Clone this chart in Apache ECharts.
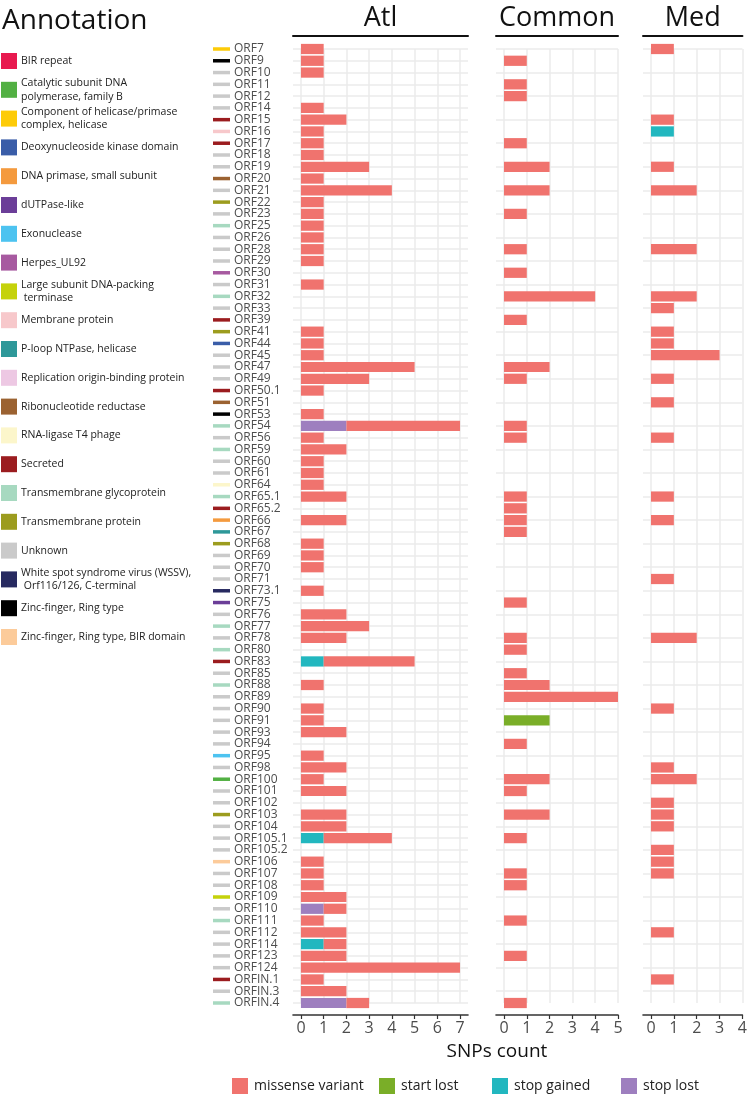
<!DOCTYPE html>
<html><head><meta charset="utf-8">
<script src="https://cdn.jsdelivr.net/npm/echarts@6/dist/echarts.min.js"></script>
<style>html,body{margin:0;padding:0;background:#fff}#c{width:750px;height:1100px}</style>
</head><body><div id="c"></div>
<script>
const annotations = ["BIR repeat","Catalytic subunit DNA\npolymerase, family B","Component of helicase/primase\ncomplex, helicase","Deoxynucleoside kinase domain","DNA primase, small subunit","dUTPase-like","Exonuclease","Herpes_UL92","Large subunit DNA-packing\n terminase","Membrane protein","P-loop NTPase, helicase","Replication origin-binding protein","Ribonucleotide reductase","RNA-ligase T4 phage","Secreted","Transmembrane glycoprotein","Transmembrane protein","Unknown","White spot syndrome virus (WSSV),\n Orf116/126, C-terminal","Zinc-finger, Ring type","Zinc-finger, Ring type, BIR domain"];
const annotationColors = ["#E8194F","#52B043","#FDCB08","#3A5DA8","#F49A3E","#6B3E98","#4DC3F0","#A75AA0","#C5D20B","#F7C8CB","#2E9899","#EDC8E3","#9B6231","#FCF6CB","#9B1C1F","#A7D9C0","#9C9C1E","#CACACA","#272A60","#000000","#FCCB9A"];
const orfs = ["ORF7","ORF9","ORF10","ORF11","ORF12","ORF14","ORF15","ORF16","ORF17","ORF18","ORF19","ORF20","ORF21","ORF22","ORF23","ORF25","ORF26","ORF28","ORF29","ORF30","ORF31","ORF32","ORF33","ORF39","ORF41","ORF44","ORF45","ORF47","ORF49","ORF50.1","ORF51","ORF53","ORF54","ORF56","ORF59","ORF60","ORF61","ORF64","ORF65.1","ORF65.2","ORF66","ORF67","ORF68","ORF69","ORF70","ORF71","ORF73.1","ORF75","ORF76","ORF77","ORF78","ORF80","ORF83","ORF85","ORF88","ORF89","ORF90","ORF91","ORF93","ORF94","ORF95","ORF98","ORF100","ORF101","ORF102","ORF103","ORF104","ORF105.1","ORF105.2","ORF106","ORF107","ORF108","ORF109","ORF110","ORF111","ORF112","ORF114","ORF123","ORF124","ORFIN.1","ORFIN.3","ORFIN.4"];
const orfAnnotation = [2,19,17,17,17,17,14,9,14,17, 17,12,17,16,17,15,17,17,17,7, 17,15,17,14,16,3,17,17,17,14, 12,19,15,17,15,17,17,13,15,14, 4,10,16,17,17,17,18,5,17,15, 17,15,14,17,15,17,17,17,17,17, 6,17,1,17,17,16,17,17,17,20, 17,17,8,17,15,17,17,17,17,14, 17,15];

const variantTypes = ["missense variant","start lost","stop gained","stop lost"];
const variantColors = ["#F0736E","#7AAE28","#22B7BF","#9E7FBF"];

const atlMissense = [1,1,1,0,0,1,2,1,1,1, 3,1,4,1,1,1,1,1,1,0, 1,0,0,0,1,1,1,5,3,1, 0,1,5,1,2,1,1,1,2,0, 2,0,1,1,1,0,1,0,2,3, 2,0,4,0,1,0,1,1,2,0, 1,2,1,2,0,2,2,3,0,1, 1,1,2,1,1,2,1,2,7,1, 2,1];
const atlStopGained = [0,0,0,0,0,0,0,0,0,0, 0,0,0,0,0,0,0,0,0,0, 0,0,0,0,0,0,0,0,0,0, 0,0,0,0,0,0,0,0,0,0, 0,0,0,0,0,0,0,0,0,0, 0,0,1,0,0,0,0,0,0,0, 0,0,0,0,0,0,0,1,0,0, 0,0,0,0,0,0,1,0,0,0, 0,0];
const atlStopLost = [0,0,0,0,0,0,0,0,0,0, 0,0,0,0,0,0,0,0,0,0, 0,0,0,0,0,0,0,0,0,0, 0,0,2,0,0,0,0,0,0,0, 0,0,0,0,0,0,0,0,0,0, 0,0,0,0,0,0,0,0,0,0, 0,0,0,0,0,0,0,0,0,0, 0,0,0,1,0,0,0,0,0,0, 0,2];
const comMissense = [0,1,0,1,1,0,0,0,1,0, 2,0,2,0,1,0,0,1,0,1, 0,4,0,1,0,0,0,2,1,0, 0,0,1,1,0,0,0,0,1,1, 1,1,0,0,0,0,0,1,0,0, 1,1,0,1,2,5,0,0,0,1, 0,0,2,1,0,2,0,1,0,0, 1,1,0,0,1,0,0,1,0,0, 0,1];
const comStartLost = [0,0,0,0,0,0,0,0,0,0, 0,0,0,0,0,0,0,0,0,0, 0,0,0,0,0,0,0,0,0,0, 0,0,0,0,0,0,0,0,0,0, 0,0,0,0,0,0,0,0,0,0, 0,0,0,0,0,0,0,2,0,0, 0,0,0,0,0,0,0,0,0,0, 0,0,0,0,0,0,0,0,0,0, 0,0];
const medMissense = [1,0,0,0,0,0,1,0,0,0, 1,0,2,0,0,0,0,2,0,0, 0,2,1,0,1,1,3,0,1,0, 1,0,0,1,0,0,0,0,1,0, 1,0,0,0,0,1,0,0,0,0, 2,0,0,0,0,0,1,0,0,0, 0,1,2,0,1,1,1,0,1,1, 1,0,0,0,0,1,0,0,0,1, 0,0];
const medStopGained = [0,0,0,0,0,0,0,1,0,0, 0,0,0,0,0,0,0,0,0,0, 0,0,0,0,0,0,0,0,0,0, 0,0,0,0,0,0,0,0,0,0, 0,0,0,0,0,0,0,0,0,0, 0,0,0,0,0,0,0,0,0,0, 0,0,0,0,0,0,0,0,0,0, 0,0,0,0,0,0,0,0,0,0, 0,0];

const panelNames = ["Atl","Common","Med"];
const panelTicks = [[0,1,2,3,4,5,6,7],[0,1,2,3,4,5],[0,1,2,3,4]];

const F = "'Open Sans', sans-serif";
const chart = echarts.init(document.getElementById('c'), null, {renderer:'canvas'});

const grids = [
  {left:293, top:45, width:175, height:958},
  {left:496, top:45, width:122, height:958},
  {left:643, top:45, width:100, height:958}
];
const xMax = [7.35, 5, 4];

const rich = {t:{color:'#4d4d4d', fontSize:12, fontFamily:F, padding:[0,0,0,4]}};
annotationColors.forEach((c,i)=>{ rich['k'+i] = {width:17, height:3.5, backgroundColor:c, verticalAlign:'middle', fontSize:4}; });

const xAxis = [], yAxis = [];
grids.forEach((g,i)=>{
  xAxis.push({type:'value', gridIndex:i, min:-0.35, max:xMax[i], position:'bottom', offset:12,
    axisLine:{show:true, lineStyle:{color:'#333', width:1.6}},
    axisTick:{show:true, customValues:panelTicks[i], length:4, lineStyle:{color:'#333', width:1.2}},
    axisLabel:{customValues:panelTicks[i], color:'#4d4d4d', fontSize:16, fontFamily:F, margin:5},
    splitLine:{show:true, lineStyle:{color:'#ebebeb', width:1.5}}
  });
  xAxis.push({type:'value', gridIndex:i, min:-0.35, max:xMax[i], position:'top', offset:13,
    axisLine:{show:true, lineStyle:{color:'#111', width:2}},
    axisTick:{show:false}, axisLabel:{show:false}, splitLine:{show:false},
    name:panelNames[i], nameLocation:'middle', nameGap:4,
    nameTextStyle:{fontSize:27, color:'#111', fontFamily:F}
  });
  yAxis.push({type:'category', gridIndex:i, data:orfs, inverse:true, boundaryGap:false,
    axisLine:{show:false}, axisTick:{show:false},
    splitLine:{show:true, lineStyle:{color:'#ebebeb', width:1.5}},
    axisLabel: i===0 ? {show:true, interval:0, align:'left', margin:80,
      formatter:(v, idx)=>`{k${orfAnnotation[idx]}| }{t|${v}}`, rich:rich} : {show:false}
  });
});

const panelSeries = [
  [["stop gained", atlStopGained],["stop lost", atlStopLost],["missense variant", atlMissense]],
  [["start lost", comStartLost],["missense variant", comMissense]],
  [["stop gained", medStopGained],["missense variant", medMissense]]
];
const series = [];
panelSeries.forEach((list,i)=>{
  list.forEach(([name,data])=>{
    series.push({type:'bar', name:name, xAxisIndex:i*2, yAxisIndex:i, stack:'p'+i,
      data:data, barWidth:'87%', itemStyle:{color:variantColors[variantTypes.indexOf(name)]},
      emphasis:{disabled:true}, animation:false});
  });
});

const legendX = [227, 374, 487, 616];
const legends = variantTypes.map((n,i)=>({left:legendX[i], top:1073, data:[n], icon:'rect', itemWidth:16, itemHeight:16,
  selectedMode:false, textStyle:{fontSize:14, color:'#222', fontFamily:F, padding:[0,0,0,1]}}));

const graphic = [
  {type:'text', left:2, top:7, style:{text:'Annotation', fontSize:28, fontFamily:F, fill:'#111'}},
  {type:'text', x:497, y:1052, style:{text:'SNPs count', fontSize:19, fontFamily:F, fill:'#111', align:'center', verticalAlign:'middle'}}
];
annotations.forEach((a,i)=>{
  const cy = 61 + i*28.8;
  graphic.push({type:'rect', shape:{x:1, y:cy-8, width:16, height:16}, style:{fill:annotationColors[i]}});
  graphic.push({type:'text', x:21, y:cy, style:{text:a, fontSize:10.5, fontFamily:F, fill:'#222', verticalAlign:'middle', lineHeight:13.5}});
});

chart.setOption({animation:false, grid:grids, xAxis:xAxis, yAxis:yAxis, series:series, legend:legends, graphic:graphic});
</script></body></html>
